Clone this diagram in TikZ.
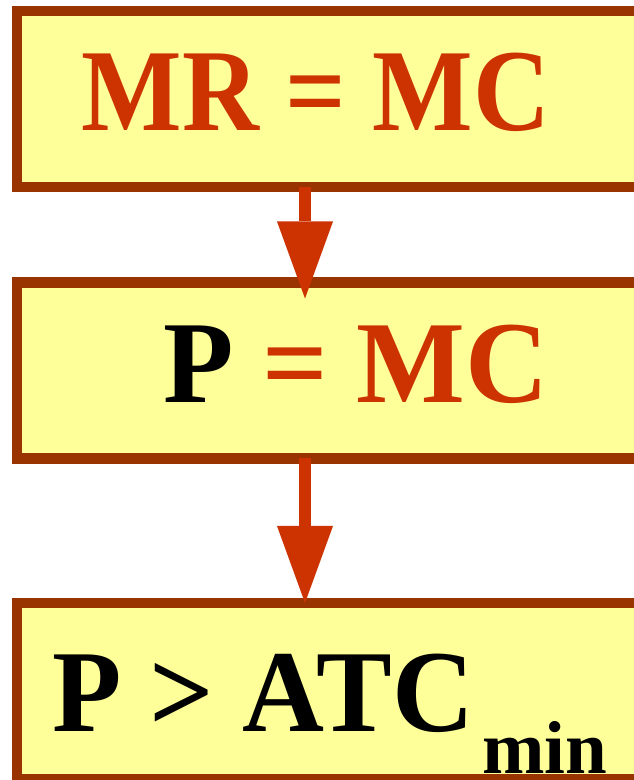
\documentclass[tikz,border=0pt]{standalone}
\usepackage{fontspec}
\setmainfont{Liberation Serif}
\usetikzlibrary{positioning,arrows.meta}
\definecolor{boxyellow}{RGB}{255,255,153}
\definecolor{boxbrown}{RGB}{153,51,0}
\definecolor{condred}{RGB}{204,51,0}
\newcommand{\condfont}[1]{\fontsize{#1}{#1}\selectfont\bfseries}
\tikzset{
  condbox/.style={draw=boxbrown,fill=boxyellow,line width=10.5pt,
    minimum width=700pt,minimum height=176pt,inner sep=0pt,outer sep=0pt},
  condtext/.style={anchor=base,inner sep=0pt},
  flow/.style={draw=condred,line width=12pt,
    -{Triangle[width=56pt,length=77pt,line width=0pt]}}
}
\begin{document}
\begin{tikzpicture}[x=1pt,y=1pt]
\useasboundingbox (0,0) rectangle (633,780);
% the three conditions
\node[condbox,anchor=west] (mrmc) at (17,680.75) {};
\node[condbox,below=95.25pt of mrmc] (pmc) {};
\node[condbox,below=144.5pt of pmc] (patc) {};
\node[condtext] (mrmctext) at (316,649)
  {\condfont{117}\scalebox{0.91}[1]{\color{condred}MR = MC}};
\node[condtext] (pmctext) at (356,377)
  {\condfont{117}\scalebox{0.985}[1]{P \color{condred}= MC}};
\node[condtext,anchor=base west] (patctext) at (52,48)
  {\condfont{117}\scalebox{0.97}[1]{P > ATC}\kern8pt\raisebox{-42pt}{\condfont{75}min}};
% arrows between them
\coordinate (ax) at (305,0);
\draw[flow,shorten >=-16pt] (mrmc.south -| ax) -- (pmc.north -| ax);
\draw[flow] (pmc.south -| ax) -- (patc.north -| ax);
\end{tikzpicture}
\end{document}
